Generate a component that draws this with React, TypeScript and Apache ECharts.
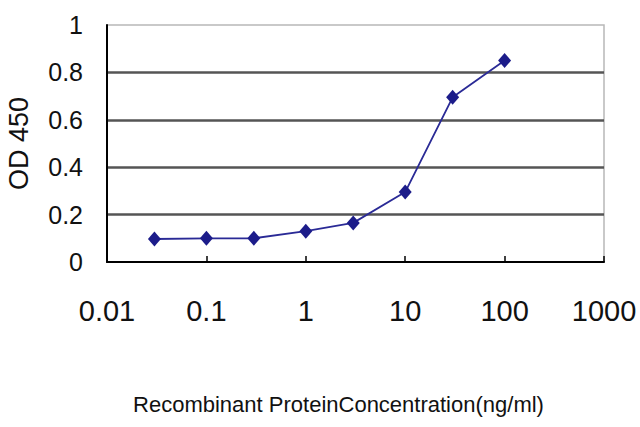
import React, { useEffect, useRef } from "react";
import * as echarts from "echarts";

const concentrations = [0.03, 0.1, 0.3, 1, 3, 10, 30, 100];
const od450 = [0.097, 0.1, 0.1, 0.13, 0.165, 0.295, 0.695, 0.85];
const xTickLabels = ["0.01", "0.1", "1", "10", "100", "1000"];
const yTickLabels = ["0", "0.2", "0.4", "0.6", "0.8", "1"];
const xTitle = "Recombinant ProteinConcentration(ng/ml)";
const yTitle = "OD 450";

export default function App() {
  const ref = useRef<HTMLDivElement>(null);
  useEffect(() => {
    if (!ref.current) return;
    const chart = echarts.init(ref.current, null, { renderer: "svg" });
    const sans = "'Liberation Sans', Arial, sans-serif";
    chart.setOption({
      animation: false,
      backgroundColor: "#ffffff",
      grid: {
        left: 107,
        right: 36,
        top: 25,
        bottom: 165,
        containLabel: false,
        outerBoundsMode: "none",
        show: true,
        borderColor: "#b8b8b8",
        borderWidth: 1.5,
      },
      xAxis: {
        type: "log",
        logBase: 10,
        min: 0.01,
        max: 1000,
        name: xTitle,
        nameLocation: "middle",
        nameGap: 131,
        nameTextStyle: {
          fontFamily: sans,
          fontSize: 22,
          color: "#111",
          padding: [0, 34, 0, 0],
        },
        axisLine: { show: true, lineStyle: { color: "#000", width: 2 } },
        axisTick: { show: true, inside: true, length: 6, lineStyle: { color: "#000", width: 1.5 } },
        axisLabel: {
          margin: 34,
          fontFamily: sans,
          fontSize: 29,
          color: "#111",
          formatter: (_v: number, i: number) => xTickLabels[i] ?? "",
        },
        splitLine: { show: false },
        minorTick: { show: false },
      },
      yAxis: {
        type: "value",
        min: 0,
        max: 1,
        interval: 0.2,
        name: yTitle,
        nameLocation: "middle",
        nameGap: 75,
        nameRotate: 90,
        nameTextStyle: {
          fontFamily: sans,
          fontSize: 27,
          color: "#111",
        },
        axisLine: { show: true, lineStyle: { color: "#000", width: 2 } },
        axisTick: { show: false },
        axisLabel: {
          margin: 24,
          fontFamily: sans,
          fontSize: 25,
          color: "#111",
          formatter: (_v: number, i: number) => yTickLabels[i] ?? "",
        },
        splitLine: {
          show: true,
          showMinLine: false,
          showMaxLine: false,
          lineStyle: { color: "#555555", width: 2.5 },
        },
      },
      series: [
        {
          type: "line",
          data: concentrations.map((c, i) => [c, od450[i]]),
          symbol: "diamond",
          symbolSize: [13, 15],
          showSymbol: true,
          itemStyle: { color: "#1c1c8a" },
          lineStyle: { color: "#2a2a96", width: 1.8 },
        },
      ],
    });
    return () => chart.dispose();
  }, []);
  return (
    <div
      ref={ref}
      style={{ position: "absolute", left: 0, top: 0, width: 640, height: 427, background: "#fff" }}
    />
  );
}
